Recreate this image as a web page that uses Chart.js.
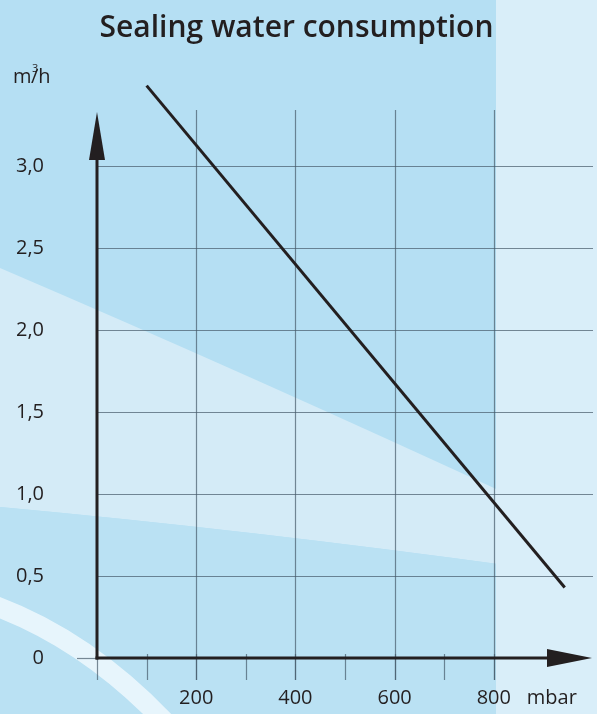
<!DOCTYPE html>
<html>
<head>
<meta charset="utf-8">
<script src="https://cdn.jsdelivr.net/npm/chart.js@4"></script>
<style>
  html, body { margin: 0; padding: 0; background: #b4dff3; }
  #c { display: block; }
</style>
</head>
<body>
<canvas id="c" width="597" height="714"></canvas>
<script>
// ---- data ----
const pressureMbar = [100, 943];          // x values (mbar)
const consumption = [3.49, 0.43];         // y values (m³/h)
const xTickValues = [200, 400, 600, 800];
const xTickLabels = ['200', '400', '600', '800'];
const xMinorTicks = [0, 100, 200, 300, 400, 500, 600, 700, 800];
const yTickValues = [0, 0.5, 1.0, 1.5, 2.0, 2.5, 3.0];
const yTickLabels = ['0', '0,5', '1,0', '1,5', '2,0', '2,5', '3,0'];
const yGridValues = [0.5, 1.0, 1.5, 2.0, 2.5, 3.0];
const chartTitle = 'Sealing water consumption';
const xUnit = 'mbar';
const yUnitBase = 'm';
const yUnitSup = '3';
const yUnitRest = '/h';

const INK = '#231f20';
const FONT = 'Open Sans';

const backgroundPlugin = {
  id: 'bg',
  beforeDraw(chart) {
    const ctx = chart.ctx;
    const W = chart.width, H = chart.height;
    ctx.save();
    ctx.fillStyle = '#b5dff3';
    ctx.fillRect(0, 0, W, H);
    // light band sweeping across
    ctx.fillStyle = '#d4ebf7';
    ctx.beginPath();
    ctx.moveTo(0, 268);
    ctx.quadraticCurveTo(250, 375, 520, 500);
    ctx.lineTo(520, 567);
    ctx.quadraticCurveTo(250, 530, 0, 507);
    ctx.closePath();
    ctx.fill();
    // lower blue section
    ctx.fillStyle = '#bae1f3';
    ctx.beginPath();
    ctx.moveTo(0, 507);
    ctx.quadraticCurveTo(250, 530, 520, 567);
    ctx.lineTo(520, H);
    ctx.lineTo(0, H);
    ctx.closePath();
    ctx.fill();
    // lighter right panel
    ctx.fillStyle = '#d9eef9';
    ctx.fillRect(496, 0, W - 496, H);
    // white swoosh at lower left
    ctx.strokeStyle = 'rgba(236,247,253,0.9)';
    ctx.lineWidth = 20;
    ctx.beginPath();
    ctx.moveTo(-10, 604);
    ctx.quadraticCurveTo(85, 638, 165, 722);
    ctx.stroke();
    ctx.restore();
  }
};

const axesPlugin = {
  id: 'axesGrid',
  beforeDatasetsDraw(chart) {
    const ctx = chart.ctx;
    const xs = chart.scales.x, ys = chart.scales.y;
    const a = chart.chartArea;
    const x0 = xs.getPixelForValue(0);
    const y0 = ys.getPixelForValue(0);
    ctx.save();
    // horizontal grid
    ctx.strokeStyle = 'rgba(70,90,105,0.7)';
    ctx.lineWidth = 1.2;
    yGridValues.forEach(v => {
      const y = Math.round(ys.getPixelForValue(v)) + 0.5;
      ctx.beginPath();
      ctx.moveTo(x0, y);
      ctx.lineTo(a.right, y);
      ctx.stroke();
    });
    // vertical grid
    xTickValues.forEach(v => {
      const x = Math.round(xs.getPixelForValue(v)) + 0.5;
      ctx.beginPath();
      ctx.moveTo(x, a.top + 26);
      ctx.lineTo(x, y0 + 22);
      ctx.stroke();
    });
    // minor ticks below x axis
    xMinorTicks.forEach(v => {
      const x = Math.round(xs.getPixelForValue(v)) + 0.5;
      ctx.beginPath();
      ctx.moveTo(x, y0 - 4);
      ctx.lineTo(x, y0 + 22);
      ctx.stroke();
    });
    // small tick left of origin
    ctx.beginPath();
    ctx.moveTo(x0 - 20, y0 + 0.5);
    ctx.lineTo(x0, y0 + 0.5);
    ctx.stroke();

    // axes with arrows
    ctx.strokeStyle = INK;
    ctx.fillStyle = INK;
    ctx.lineWidth = 3;
    const yTip = a.top + 28;
    ctx.beginPath();
    ctx.moveTo(x0, y0 + 1.5);
    ctx.lineTo(x0, yTip + 40);
    ctx.stroke();
    ctx.beginPath();
    ctx.moveTo(x0, yTip);
    ctx.lineTo(x0 - 8, yTip + 48);
    ctx.lineTo(x0 + 8, yTip + 48);
    ctx.closePath();
    ctx.fill();

    const xTip = a.right - 1;
    ctx.beginPath();
    ctx.moveTo(x0 - 1.5, y0);
    ctx.lineTo(xTip - 40, y0);
    ctx.stroke();
    ctx.beginPath();
    ctx.moveTo(xTip, y0);
    ctx.lineTo(xTip - 45, y0 - 9);
    ctx.lineTo(xTip - 45, y0 + 9);
    ctx.closePath();
    ctx.fill();
    ctx.restore();
  },
  afterDraw(chart) {
    const ctx = chart.ctx;
    const xs = chart.scales.x, ys = chart.scales.y;
    ctx.save();
    ctx.fillStyle = INK;
    ctx.font = '20px "' + FONT + '"';
    ctx.textBaseline = 'middle';
    ctx.textAlign = 'center';
    ctx.fillText(xUnit, xs.getPixelForValue(917), ys.getPixelForValue(0) + 40);
    ctx.textAlign = 'left';
    ctx.fillText(yUnitBase, 13, 77);
    ctx.fillText(yUnitRest, 31, 77);
    ctx.font = '11px "' + FONT + '"';
    ctx.fillText(yUnitSup, 32, 69);
    ctx.restore();
  }
};

new Chart(document.getElementById('c'), {
  type: 'scatter',
  data: {
    datasets: [{
      data: pressureMbar.map((x, i) => ({ x: x, y: consumption[i] })),
      showLine: true,
      borderColor: INK,
      borderWidth: 3,
      pointRadius: 0,
      fill: false
    }]
  },
  options: {
    responsive: false,
    animation: false,
    devicePixelRatio: 1,
    layout: { padding: { left: 0, right: 4, top: 0, bottom: 0 } },
    plugins: {
      legend: { display: false },
      tooltip: { enabled: false },
      title: {
        display: true,
        text: chartTitle,
        color: INK,
        font: { family: FONT, size: 30, weight: '600' },
        padding: { top: 10, bottom: 38 }
      }
    },
    scales: {
      x: {
        type: 'linear',
        min: 0, max: 1000,
        grid: { display: false, drawTicks: false },
        border: { display: false },
        afterBuildTicks(s) { s.ticks = xTickValues.map(v => ({ value: v })); },
        afterFit(s) { s.height = 56; s.paddingLeft = 0; s.paddingRight = 0; },
        ticks: {
          padding: 28,
          maxRotation: 0,
          autoSkip: false,
          color: INK,
          font: { family: FONT, size: 20 },
          callback: (v, i) => xTickLabels[i]
        }
      },
      y: {
        type: 'linear',
        min: 0, max: 3.5,
        grid: { display: false, drawTicks: false },
        border: { display: false },
        afterBuildTicks(s) { s.ticks = yTickValues.map(v => ({ value: v })); },
        afterFit(s) { s.width = 97; s.paddingTop = 0; s.paddingBottom = 0; },
        ticks: {
          padding: 53,
          autoSkip: false,
          color: INK,
          font: { family: FONT, size: 20 },
          callback: (v, i) => yTickLabels[i]
        }
      }
    }
  },
  plugins: [backgroundPlugin, axesPlugin]
});
</script>
</body>
</html>
